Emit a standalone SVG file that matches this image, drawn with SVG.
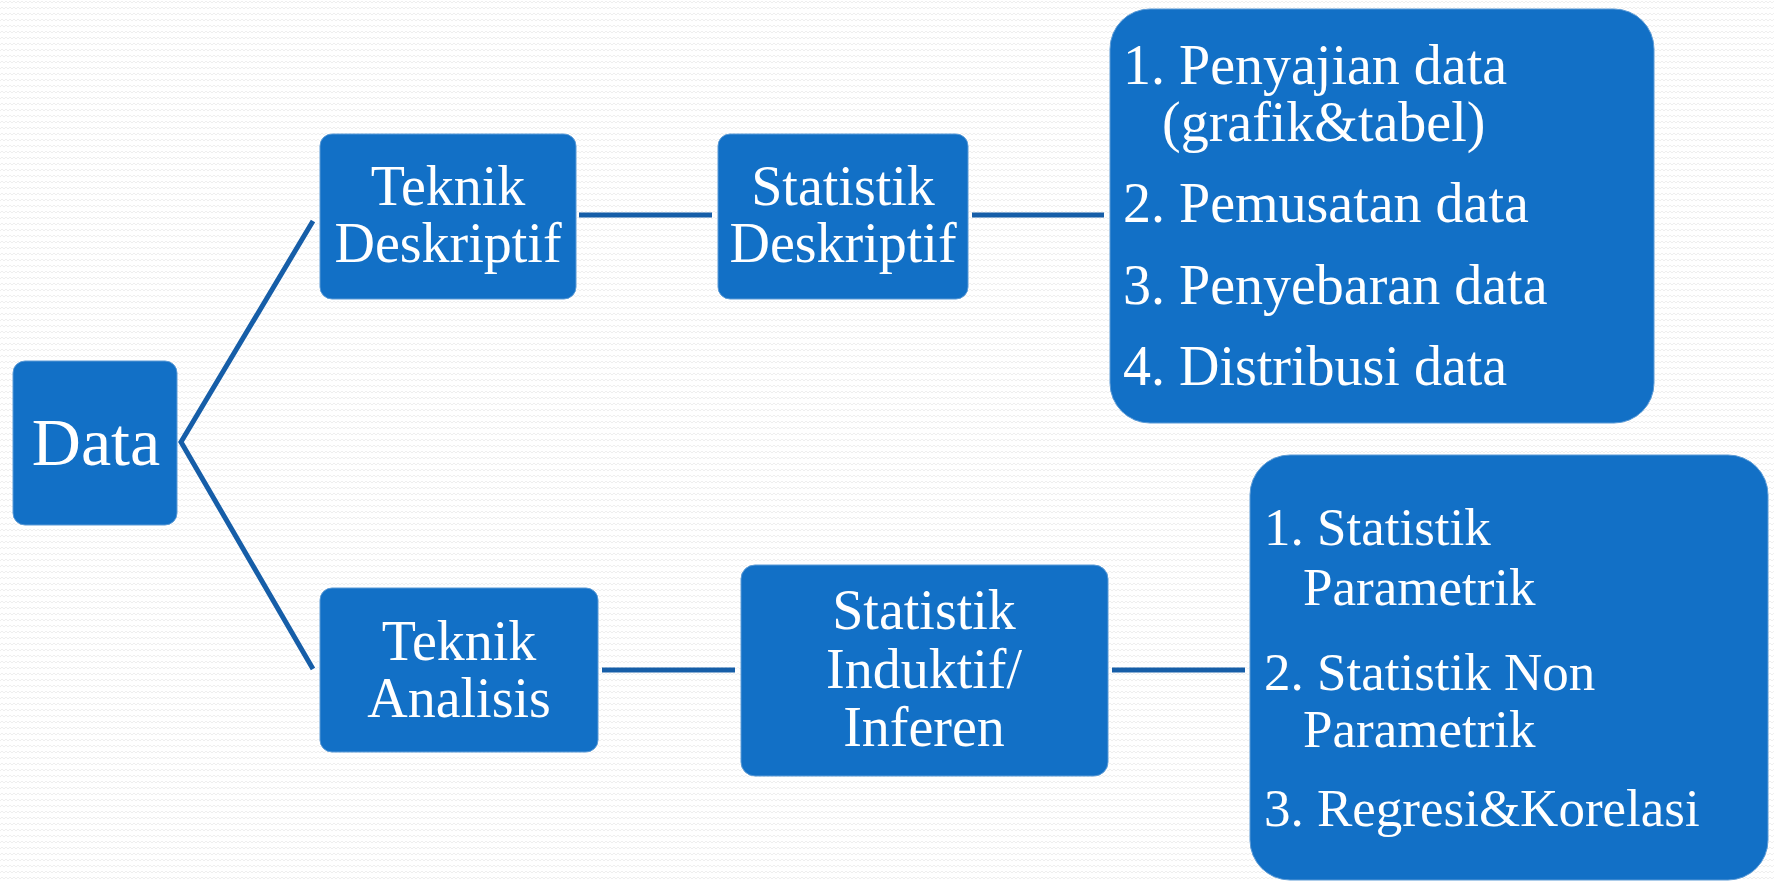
<svg xmlns="http://www.w3.org/2000/svg" width="1774" height="883" viewBox="0 0 1774 883">
<defs>
<pattern id="bg" width="8" height="6" patternUnits="userSpaceOnUse">
<polyline points="0,3 2,1 4,3 6,1 8,3" fill="none" stroke="#efefef" stroke-width="1"/>
</pattern>
<style>
.box{fill:#1270c6;stroke:#5a9ad6;stroke-width:1}
.t{font-family:"Liberation Serif","DejaVu Serif",serif;fill:#ffffff;font-size:56px}
.s{font-size:53px}
.c{text-anchor:middle}
.ln{stroke:#165ea8;stroke-width:5;fill:none}
</style>
</defs>
<rect width="1774" height="883" fill="#ffffff"/>
<rect width="1774" height="883" fill="url(#bg)"/>
<g id="connectors">
<polyline class="ln" points="313,221 181,442 313,669"/>
<line class="ln" x1="579" y1="215" x2="712" y2="215"/>
<line class="ln" x1="972" y1="215" x2="1104" y2="215"/>
<line class="ln" x1="602" y1="670" x2="735" y2="670"/>
<line class="ln" x1="1112" y1="670" x2="1245" y2="670"/>
</g>
<g id="data">
<rect class="box" x="13" y="361" width="164" height="164" rx="12"/>
<text class="t c" x="96" y="465" style="font-size:68px">Data</text>
</g>
<g id="teknik-deskriptif">
<rect class="box" x="320" y="134" width="256" height="165" rx="12"/>
<text class="t c" x="448" y="205">Teknik</text>
<text class="t c" x="448" y="262">Deskriptif</text>
</g>
<g id="statistik-deskriptif">
<rect class="box" x="718" y="134" width="250" height="165" rx="12"/>
<text class="t c" x="843" y="205">Statistik</text>
<text class="t c" x="843" y="262">Deskriptif</text>
</g>
<g id="list-deskriptif">
<rect class="box" x="1110" y="9" width="544" height="414" rx="40"/>
<text class="t" x="1123" y="84">1. Penyajian data</text>
<text class="t" x="1162" y="141">(grafik&amp;tabel)</text>
<text class="t" x="1123" y="222">2. Pemusatan data</text>
<text class="t" x="1123" y="304">3. Penyebaran data</text>
<text class="t" x="1123" y="385">4. Distribusi data</text>
</g>
<g id="teknik-analisis">
<rect class="box" x="320" y="588" width="278" height="164" rx="12"/>
<text class="t c" x="459" y="660">Teknik</text>
<text class="t c" x="459" y="717">Analisis</text>
</g>
<g id="statistik-induktif">
<rect class="box" x="741" y="565" width="367" height="211" rx="14"/>
<text class="t c" x="924" y="629">Statistik</text>
<text class="t c" x="924" y="688">Induktif/</text>
<text class="t c" x="924" y="746">Inferen</text>
</g>
<g id="list-induktif">
<rect class="box" x="1250" y="455" width="518" height="425" rx="40"/>
<text class="t s" x="1264" y="545">1. Statistik</text>
<text class="t s" x="1303" y="605">Parametrik</text>
<text class="t s" x="1264" y="690">2. Statistik Non</text>
<text class="t s" x="1303" y="747">Parametrik</text>
<text class="t s" x="1264" y="826">3. Regresi&amp;Korelasi</text>
</g>
</svg>
